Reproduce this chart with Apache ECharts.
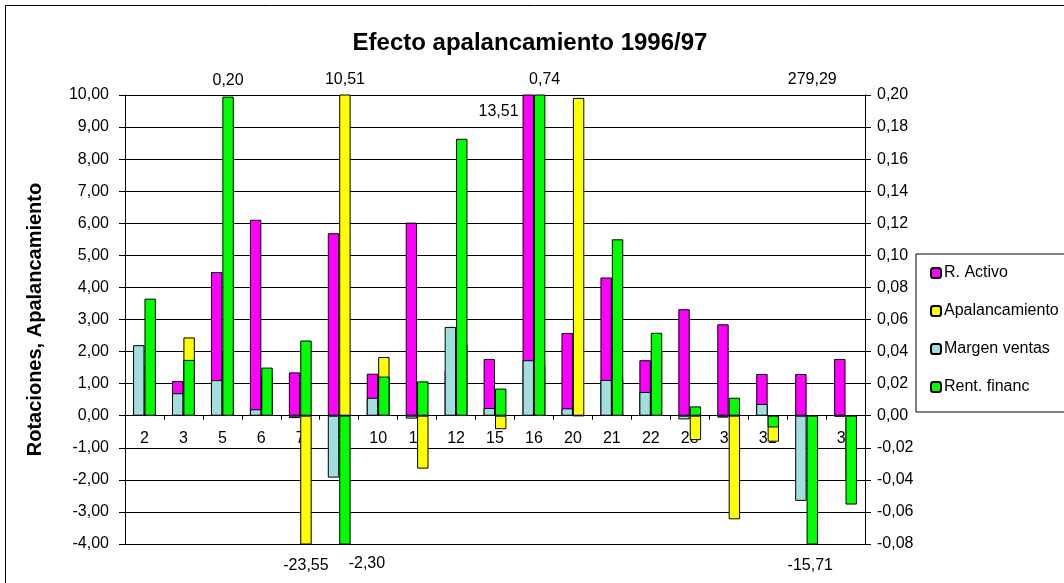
<!DOCTYPE html>
<html>
<head>
<meta charset="utf-8">
<script src="https://cdn.jsdelivr.net/npm/echarts@6/dist/echarts.min.js"></script>
<style>
  html, body { margin: 0; padding: 0; background: #fff; }
  #chart { width: 1064px; height: 583px; }
</style>
</head>
<body>
<div id="chart"></div>
<script>
// Company codes along the category axis
const categories = ['2', '3', '5', '6', '7', '8', '10', '11', '12', '15', '16', '20', '21', '22', '28', '30', '31', '33', '35'];

// Primary axis: asset turnover and leverage
const rActivo = [1.05, 1.08, 4.48, 6.11, 1.35, 5.69, 1.31, 6.02, 1.40, 1.77, 13.51, 2.58, 4.31, 1.73, 3.32, 2.85, 1.30, 1.30, 1.77];
const apalancamiento = [1.58, 2.44, 2.00, 1.23, -23.55, 10.51, 1.83, -1.65, 2.23, -0.42, 1.58, 9.91, 1.15, 2.02, -0.76, -3.23, -0.81, 279.29, -2.00];

// Secondary axis: sales margin and financial return
const margenVentas = [0.044, 0.014, 0.0222, 0.004, -0.0015, -0.0386, 0.0112, -0.0018, 0.0554, 0.0048, 0.0346, 0.0046, 0.0223, 0.0148, -0.0023, -0.0012, 0.0073, -0.0531, -0.0005];
const rentFinanc = [0.073, 0.0348, 0.199, 0.030, 0.0469, -2.30, 0.0244, 0.0214, 0.1727, 0.0169, 0.74, 0, 0.110, 0.0517, 0.0058, 0.0112, -0.0073, -15.71, -0.0554];

// Axis tick ranges
const leftTicks = { min: -4, max: 10, step: 1 };
const rightTicks = { min: -0.08, max: 0.20, step: 0.02 };

const FONT = 'Liberation Sans, Arial, sans-serif';
const fmt = v => Number(v).toFixed(2).replace('.', ',').replace('-0,00', '0,00');

// Value notes written next to bars that run off the scale
const notes = {
  apal: {
    '8':  { position: 'top', offset: [0, -2] },
    '33': { position: 'top', offset: [0, -2], hideBar: true },
    '7':  { position: 'bottom', offset: [0, 8] }
  },
  ract: {
    '16': { position: [-4, 17], align: 'right', verticalAlign: 'middle' }
  },
  rent: {
    '5':  { position: 'top', offset: [0, -3] },
    '16': { position: 'top', offset: [5, -2] },
    '8':  { position: 'bottom', offset: [22, 6] },
    '33': { position: 'bottom', offset: [-2, 8] }
  }
};

function withNotes(values, key) {
  return values.map((v, i) => {
    const n = notes[key] && notes[key][categories[i]];
    if (!n) return v;
    const item = {
      value: v,
      label: {
        show: true,
        position: n.position,
        offset: n.offset || [0, 0],
        formatter: p => fmt(p.value),
        color: '#000',
        fontFamily: FONT,
        fontSize: 16
      }
    };
    if (n.align) item.label.align = n.align;
    if (n.verticalAlign) item.label.verticalAlign = n.verticalAlign;
    // value far beyond the scale: only its note is shown
    if (n.hideBar) item.itemStyle = { color: 'rgba(0,0,0,0)', borderColor: 'rgba(0,0,0,0)' };
    return item;
  });
}

// Plot area
const GRID = { left: 125, right: 199, top: 95, bottom: 39 };
const plotHeight = 583 - GRID.top - GRID.bottom;
// the category axis sits on the zero line of the primary scale
const zeroShift = -plotHeight * (0 - leftTicks.min) / (leftTicks.max - leftTicks.min);

const BAR_W = 11.4;
const barBase = {
  type: 'bar',
  barWidth: BAR_W,
  barGap: '0%',
  animation: false,
  clip: true
};
const edge = { borderColor: '#000', borderWidth: 1 };

const chart = echarts.init(document.getElementById('chart'), null, { renderer: 'canvas' });

chart.setOption({
  backgroundColor: '#fff',
  animation: false,
  textStyle: { fontFamily: FONT, color: '#000' },
  title: {
    text: 'Efecto apalancamiento 1996/97',
    left: 525,
    top: 26,
    textAlign: 'center',
    textStyle: { fontFamily: FONT, fontSize: 24, fontWeight: 'bold', color: '#000' }
  },
  graphic: [{
    type: 'rect',
    shape: { x: 5.5, y: 5.5, width: 1100, height: 600 },
    style: { fill: 'none', stroke: '#000', lineWidth: 1 },
    silent: true,
    z: -1
  }],
  legend: {
    orient: 'vertical',
    left: 916,
    top: 254,
    padding: [11, 20, 17, 14],
    itemWidth: 10,
    itemHeight: 10,
    itemGap: 22,
    backgroundColor: '#fff',
    borderColor: '#000',
    borderWidth: 1,
    textStyle: { fontFamily: FONT, fontSize: 16, color: '#000', padding: [0, 0, 0, -2] },
    data: ['R. Activo', 'Apalancamiento', 'Margen ventas', 'Rent. financ']
  },
  grid: Object.assign({ containLabel: false }, GRID),
  xAxis: [{
    type: 'category',
    data: categories,
    position: 'bottom',
    offset: zeroShift,
    axisLine: { onZero: false, lineStyle: { color: '#000', width: 1 } },
    axisTick: { show: true, length: 4, lineStyle: { color: '#000' } },
    axisLabel: { color: '#000', fontFamily: FONT, fontSize: 16, margin: 15, interval: 0 },
    splitLine: { show: false }
  }, {
    type: 'category',
    data: categories,
    show: false
  }],
  yAxis: [{
    type: 'value',
    min: leftTicks.min,
    max: leftTicks.max,
    interval: leftTicks.step,
    name: 'Rotaciones, Apalancamiento',
    nameLocation: 'middle',
    nameRotate: 90,
    nameGap: 80,
    nameTextStyle: { fontFamily: FONT, fontSize: 20, fontWeight: 'bold', color: '#000' },
    axisLine: { show: true, lineStyle: { color: '#000', width: 1 } },
    axisTick: { show: true, length: 6, lineStyle: { color: '#000' } },
    axisLabel: { color: '#000', fontFamily: FONT, fontSize: 16, margin: 16, formatter: fmt },
    splitLine: { show: true, lineStyle: { color: '#000', width: 1 } }
  }, {
    type: 'value',
    min: rightTicks.min,
    max: rightTicks.max,
    interval: rightTicks.step,
    position: 'right',
    axisLine: { show: true, lineStyle: { color: '#000', width: 1 } },
    axisTick: { show: true, length: 6, lineStyle: { color: '#000' } },
    axisLabel: { color: '#000', fontFamily: FONT, fontSize: 16, margin: 12, formatter: fmt },
    splitLine: { show: false }
  }],
  series: [
    Object.assign({}, barBase, {
      name: 'R. Activo',
      xAxisIndex: 0, yAxisIndex: 0,
      itemStyle: Object.assign({ color: '#FF00FF' }, edge),
      data: withNotes(rActivo, 'ract')
    }),
    Object.assign({}, barBase, {
      name: 'Apalancamiento',
      xAxisIndex: 0, yAxisIndex: 0,
      itemStyle: Object.assign({ color: '#FFFF00' }, edge),
      data: withNotes(apalancamiento, 'apal')
    }),
    Object.assign({}, barBase, {
      name: 'Margen ventas',
      xAxisIndex: 1, yAxisIndex: 1,
      itemStyle: Object.assign({ color: '#A2DEDE' }, edge),
      data: withNotes(margenVentas, 'marg')
    }),
    Object.assign({}, barBase, {
      name: 'Rent. financ',
      xAxisIndex: 1, yAxisIndex: 1,
      itemStyle: Object.assign({ color: '#00FF00' }, edge),
      data: withNotes(rentFinanc, 'rent')
    })
  ]
});
</script>
</body>
</html>
